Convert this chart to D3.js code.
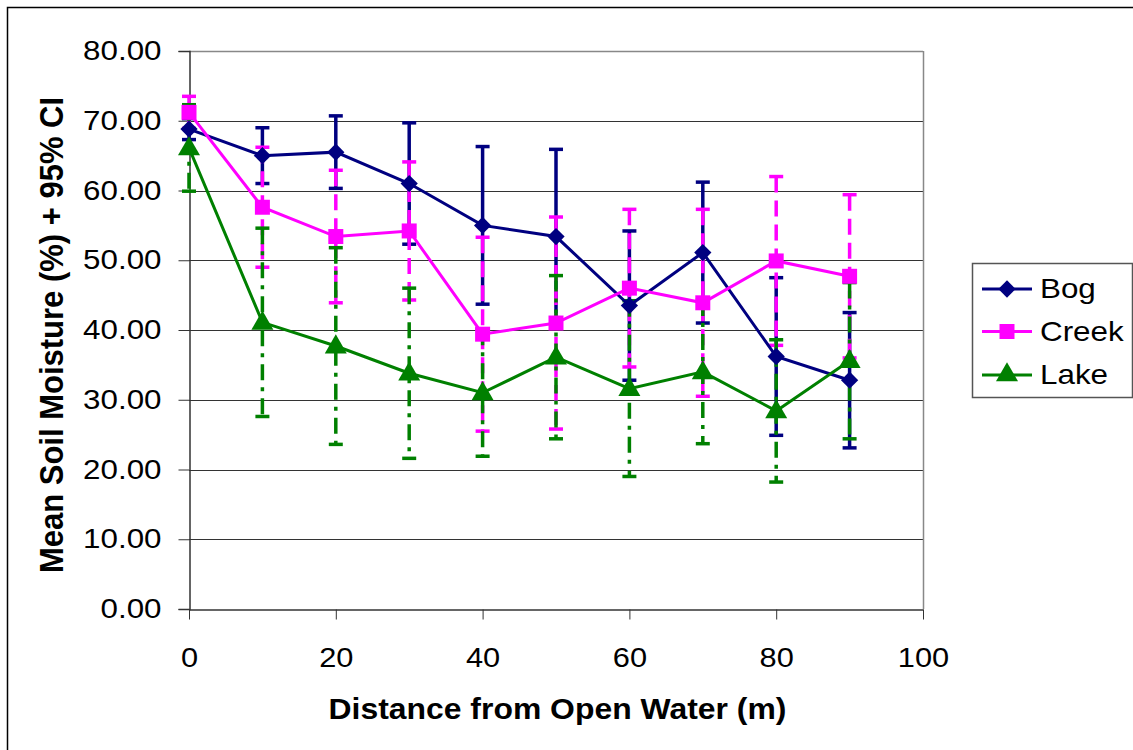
<!DOCTYPE html>
<html>
<head>
<meta charset="utf-8">
<script src="https://cdn.jsdelivr.net/npm/d3@7"></script>
<style>
  html, body { margin: 0; padding: 0; background: #fff; }
  svg { display: block; }
  text { font-family: "Liberation Sans", Arial, sans-serif; }
</style>
</head>
<body>
<svg id="chart" width="1133" height="750"></svg>
<script>
const distances = [0, 10, 20, 30, 40, 50, 60, 70, 80, 90];
const bogMean   = [68.8, 65.0, 65.5, 61.0, 55.0, 53.4, 43.5, 51.1, 36.2, 32.8];
const bogCI     = [1.5, 4.0, 5.2, 8.7, 11.3, 12.5, 10.7, 10.1, 11.3, 9.7];
const creekMean = [71.2, 57.6, 53.4, 54.2, 39.4, 41.0, 46.0, 43.9, 49.9, 47.7];
const creekCI   = [2.3, 8.6, 9.5, 9.9, 13.9, 15.2, 11.3, 13.4, 12.1, 11.7];
const lakeMean  = [66.1, 41.1, 37.7, 33.8, 31.0, 36.1, 31.6, 34.0, 28.4, 35.6];
const lakeCI    = [6.2, 13.5, 14.1, 12.2, 9.1, 11.7, 12.6, 10.3, 10.2, 11.2];
const seriesNames = ["Bog", "Creek", "Lake"];
const yTicks = [0, 10, 20, 30, 40, 50, 60, 70, 80];
const xTicks = [0, 20, 40, 60, 80, 100];

const series = [
  { name: "Bog",   mean: bogMean,   ci: bogCI,   color: "#000080", shape: "diamond",  dash: null },
  { name: "Creek", mean: creekMean, ci: creekCI, color: "#FF00FF", shape: "square",   dash: "16,8" },
  { name: "Lake",  mean: lakeMean,  ci: lakeCI,  color: "#008000", shape: "triangle", dash: "16,7,4,7" }
];

const svg = d3.select("#chart");
const pLeft = 189, pRight = 923, pTop = 51, pBottom = 609;
const FONT = '"Liberation Sans", Arial, sans-serif';

// stretch horizontal text to mimic the reference's wide glyphs
function stretch(sel, factor) {
  sel.each(function() {
    const w = this.getComputedTextLength();
    d3.select(this).attr("textLength", w * factor).attr("lengthAdjust", "spacingAndGlyphs");
  });
}

// outer frame
svg.append("rect").attr("x", 7.5).attr("y", 7.5).attr("width", 1140).attr("height", 760)
  .attr("fill", "none").attr("stroke", "#000").attr("stroke-width", 1.5);

const x = d3.scaleLinear().domain([0, 100]).range([pLeft, pRight]);
const y = d3.scaleLinear().domain([0, 80]).range([pBottom, pTop]);

// gridlines
svg.append("g").selectAll("line").data(yTicks.filter(d => d > 0)).join("line")
  .attr("x1", pLeft).attr("x2", pRight)
  .attr("y1", d => Math.round(y(d)) + 0.5).attr("y2", d => Math.round(y(d)) + 0.5)
  .attr("stroke", "#333").attr("stroke-width", 1);

// plot border right/top
svg.append("line").attr("x1", pRight + 0.5).attr("x2", pRight + 0.5).attr("y1", pTop).attr("y2", pBottom)
  .attr("stroke", "#888").attr("stroke-width", 1.5);
svg.append("line").attr("x1", pLeft).attr("x2", pRight).attr("y1", pTop + 0.5).attr("y2", pTop + 0.5)
  .attr("stroke", "#888").attr("stroke-width", 1.5);

// axes
const yAxis = d3.axisLeft(y).tickValues(yTicks).tickSize(11).tickPadding(17)
  .tickFormat(d => d3.format(".2f")(d));
const gy = svg.append("g").attr("transform", `translate(${pLeft + 0.5},0)`).call(yAxis);
gy.select(".domain").attr("stroke", "#333").attr("stroke-width", 1.5);
gy.selectAll(".tick line").attr("stroke", "#333");
gy.selectAll(".tick text").attr("font-size", 27).attr("fill", "#000").attr("font-family", FONT);
stretch(gy.selectAll(".tick text"), 1.16);

const xAxis = d3.axisBottom(x).tickValues(xTicks).tickSize(10).tickPadding(28).tickSizeOuter(0);
const gx = svg.append("g").attr("transform", `translate(0,${pBottom + 0.5})`).call(xAxis);
gx.select(".domain").attr("stroke", "#333").attr("stroke-width", 1.5);
gx.selectAll(".tick line").attr("stroke", "#333");
gx.selectAll(".tick text").attr("font-size", 27).attr("fill", "#000").attr("font-family", FONT);
stretch(gx.selectAll(".tick text"), 1.14);

// axis titles
const xt = svg.append("text").attr("x", 557.5).attr("y", 719).attr("text-anchor", "middle")
  .attr("font-size", 29).attr("font-weight", "bold").text("Distance from Open Water (m)");
stretch(xt, 1.10);
svg.append("text").attr("transform", "translate(63,335) scale(1.1,1) rotate(-90)").attr("text-anchor", "middle")
  .attr("font-size", 31).attr("font-weight", "bold").text("Mean Soil Moisture (%) + 95% CI");

// markers
function markerPath(shape) {
  if (shape === "diamond") return d3.symbol().type(d3.symbolDiamond2).size(190)();
  if (shape === "square") return d3.symbol().type(d3.symbolSquare).size(225)();
  return d3.symbol().type(d3.symbolTriangle).size(210)();
}

const line = d3.line().x(d => x(d.x)).y(d => y(d.v));

series.forEach(s => {
  const pts = distances.map((d, i) => ({ x: d, v: s.mean[i], ci: s.ci[i] }));
  const g = svg.append("g");
  g.selectAll("line.err").data(pts).join("line").attr("class", "err")
    .attr("x1", d => x(d.x)).attr("x2", d => x(d.x))
    .attr("y1", d => y(d.v + d.ci)).attr("y2", d => y(d.v - d.ci))
    .attr("stroke", s.color).attr("stroke-width", 3.5)
    .attr("stroke-dasharray", s.dash);
  [1, -1].forEach(sign => {
    g.selectAll("line.cap" + (sign > 0 ? "u" : "d")).data(pts).join("line")
      .attr("class", "cap" + (sign > 0 ? "u" : "d"))
      .attr("x1", d => x(d.x) - 7).attr("x2", d => x(d.x) + 7)
      .attr("y1", d => y(d.v + sign * d.ci)).attr("y2", d => y(d.v + sign * d.ci))
      .attr("stroke", s.color).attr("stroke-width", 3.5);
  });
});

series.forEach(s => {
  const pts = distances.map((d, i) => ({ x: d, v: s.mean[i] }));
  svg.append("path").datum(pts).attr("d", line).attr("fill", "none")
    .attr("stroke", s.color).attr("stroke-width", 3);
  svg.append("g").selectAll("path").data(pts).join("path")
    .attr("d", markerPath(s.shape))
    .attr("transform", d => `translate(${x(d.x)},${y(d.v) + (s.shape === "triangle" ? 1 : 0)})`)
    .attr("fill", s.color);
});

// legend
const lg = svg.append("g");
lg.append("rect").attr("x", 972.5).attr("y", 263.5).attr("width", 160).attr("height", 134)
  .attr("fill", "#fff").attr("stroke", "#555").attr("stroke-width", 1.5);
const legendBase = [298, 340.5, 384];
series.forEach((s, i) => {
  const cy = legendBase[i] - 9;
  lg.append("line").attr("x1", 982).attr("x2", 1032).attr("y1", cy).attr("y2", cy)
    .attr("stroke", s.color).attr("stroke-width", 3);
  lg.append("path").attr("d", markerPath(s.shape))
    .attr("transform", `translate(1007,${cy})`).attr("fill", s.color);
  const t = lg.append("text").attr("x", 1040).attr("y", legendBase[i]).attr("font-size", 28)
    .text(seriesNames[i]);
  stretch(t, 1.12);
});
</script>
</body>
</html>
